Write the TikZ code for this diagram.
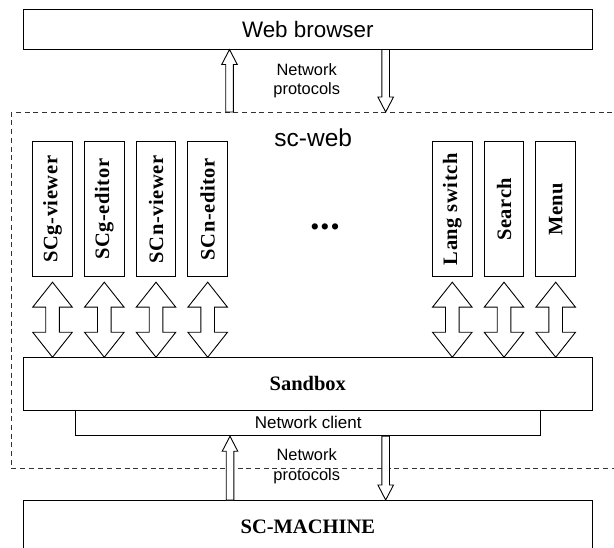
\documentclass[tikz,border=0pt]{standalone}
\usepackage{fontspec}
\setmainfont{Liberation Serif}
\setsansfont{Liberation Sans}
\usetikzlibrary{calc}
\newcommand\BlkArrow[2]{%
  \coordinate (hbtmp) at ($(#2)!15pt!(#1)$);
  \draw[blockarr] ($(#1)!3.8pt!90:(#2)$) -- ($(hbtmp)!3.8pt!90:(#2)$) -- ($(hbtmp)!7.8pt!90:(#2)$) -- (#2)
    -- ($(hbtmp)!7.8pt!-90:(#2)$) -- ($(hbtmp)!3.8pt!-90:(#2)$) -- ($(#1)!3.8pt!-90:(#2)$) -- cycle;}
\newcommand\DblArrow[2]{%
  \coordinate (hbA) at ($(#1)!25pt!(#2)$);
  \coordinate (hbB) at ($(#2)!25pt!(#1)$);
  \draw[blockarr] (#1) -- ($(hbA)!19.8pt!90:(#2)$) -- ($(hbA)!6.8pt!90:(#2)$) -- ($(hbB)!6.8pt!90:(#2)$)
    -- ($(hbB)!19.8pt!90:(#2)$) -- (#2) -- ($(hbB)!19.8pt!-90:(#2)$) -- ($(hbB)!6.8pt!-90:(#2)$)
    -- ($(hbA)!6.8pt!-90:(#2)$) -- ($(hbA)!19.8pt!-90:(#2)$) -- cycle;}
\tikzset{
  box/.style={draw=black, line width=1pt, inner sep=0pt},
  vbox/.style={box, minimum width=39.6, minimum height=135},
  vlabel/.style={rotate=90, font=\fontsize{20.5}{22}\selectfont\bfseries\addfontfeature{LetterSpace=3}},
  sanslbl/.style={font=\sffamily\fontsize{16.4}{19.7}\selectfont, align=center, inner sep=0pt},
  blockarr/.style={draw=black, line width=0.9pt, fill=white, line join=miter},
  frame/.style={draw=black!80, line width=0.9pt, dash pattern=on 5pt off 3.7pt, inner sep=0pt}
}
\begin{document}
\begin{tikzpicture}[x=1pt,y=-1pt]
\useasboundingbox (0,0) rectangle (614,548);
\clip (0,0) rectangle (614,548);
% frames
\node[frame, anchor=north west, minimum width=640, minimum height=356.3] (scweb) at (11,112) {};
\node[box, minimum width=569, minimum height=39.7, font=\sffamily\fontsize{22.4}{24}\selectfont] (wb) at (307.8,29.2) {Web browser};
\node[font=\sffamily\fontsize{24.5}{26}\selectfont, inner sep=0pt] (scwebl) at (313.3,137.5) {sc-web};
% vertical boxes
\node[vbox] (v1) at (52.5,209.2) {};
\node[vbox] (v2) at (104.3,209.2) {};
\node[vbox] (v3) at (156,209.2) {};
\node[vbox] (v4) at (207.7,209.2) {};
\node[vbox] (v5) at (452.3,209.2) {};
\node[vbox] (v6) at (504,209.2) {};
\node[vbox] (v7) at (555.7,209.2) {};
\node[vlabel] at (v1) {SCg-viewer};
\node[vlabel] at (v2) {SCg-editor};
\node[vlabel] at (v3) {SCn-viewer};
\node[vlabel] at (v4) {SCn-editor};
\node[vlabel] at (v5) {Lang switch};
\node[vlabel] at (v6) {Search};
\node[vlabel] at (v7) {Menu};
\node[font=\fontsize{26}{28}\selectfont, inner sep=0pt] (dots) at (325,230) {\textbullet\hspace{1pt}\textbullet\hspace{1pt}\textbullet};
% sandbox etc
\node[box, minimum width=569, minimum height=52.3, font=\fontsize{20.5}{22}\selectfont\bfseries] (sb) at (307.8,383.9) {Sandbox};
\node[box, minimum width=465, minimum height=25.7, font=\sffamily\fontsize{17}{19}\selectfont] (nc) at (308.2,422.9) {Network client};
\node[box, minimum width=569, minimum height=53.4, font=\fontsize{20.5}{22}\selectfont\bfseries] (scm) at (307.8,526.7) {SC-MACHINE};
% labels
\node[sanslbl] (np1) at (306.7,80.8) {Network\\protocols};
\node[sanslbl] (np2) at (306.7,466.2) {Network\\protocols};
% top arrows
\coordinate (ua1) at (229.5,112);
\coordinate (ua1t) at (wb.south -| ua1);
\BlkArrow{ua1}{ua1t}
\coordinate (da1t) at (385.7,112);
\coordinate (da1s) at (wb.south -| da1t);
\BlkArrow{da1s}{da1t}
% bottom arrows
\coordinate (ua2) at (230,500);
\coordinate (ua2t) at (nc.south -| ua2);
\BlkArrow{ua2}{ua2t}
\coordinate (da2t) at (385.7,500);
\coordinate (da2s) at (nc.south -| da2t);
\BlkArrow{da2s}{da2t}
% double arrows
\foreach \n in {v1,v2,v3,v4,v5,v6,v7}{
  \coordinate (\n-a) at ($(\n.south)+(0,5)$);
  \coordinate (\n-b) at (\n.south |- sb.north);
  \DblArrow{\n-a}{\n-b}
}
\end{tikzpicture}
\end{document}
